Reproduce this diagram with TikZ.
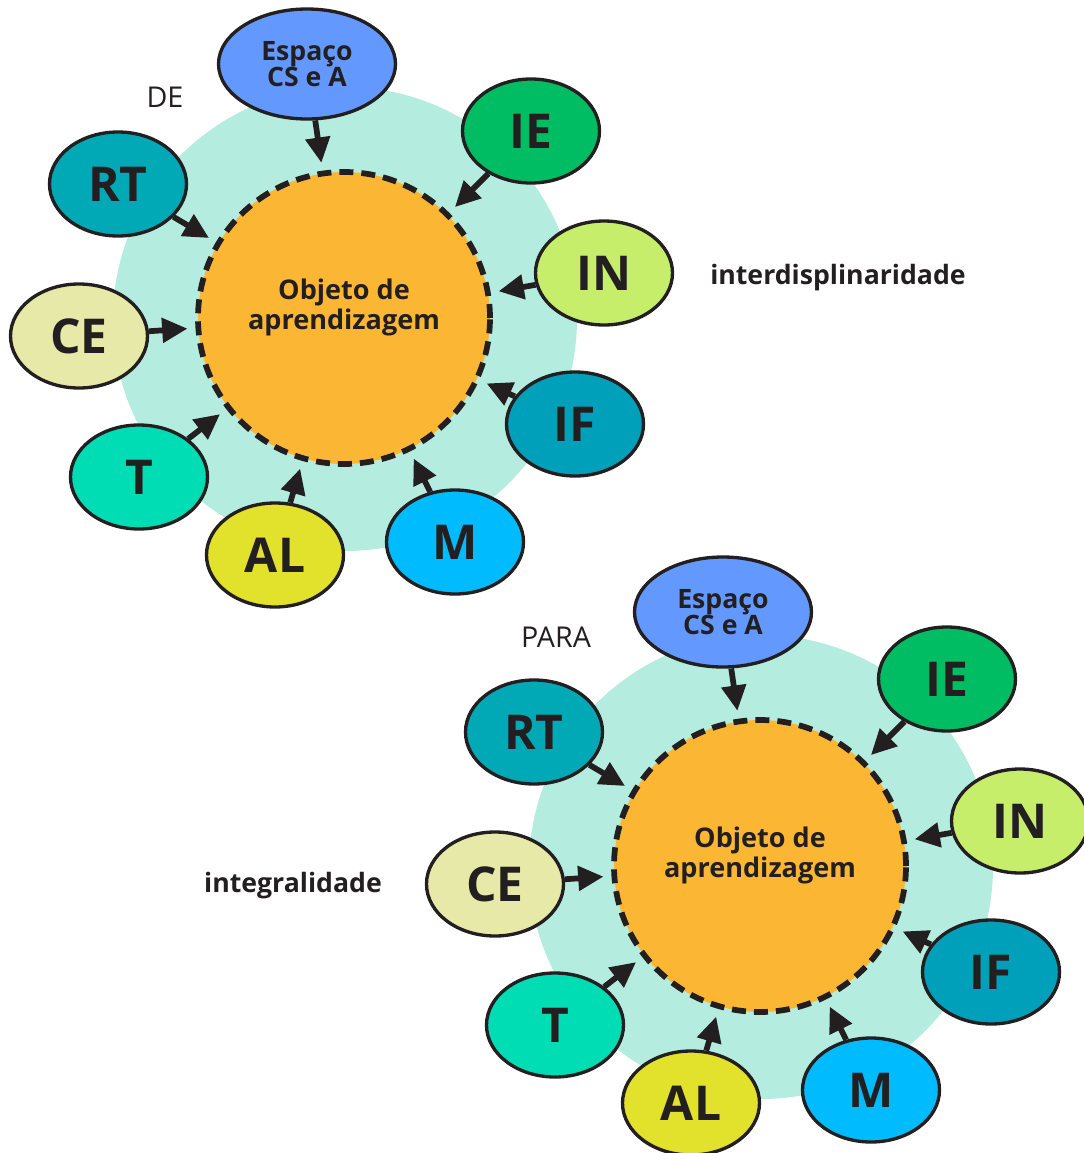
\documentclass[tikz,border=0pt]{standalone}
\usepackage{fontspec}
\setmainfont{Open Sans}
\usetikzlibrary{arrows.meta,shapes.geometric}
\definecolor{bgteal}{HTML}{B4EDE0}
\definecolor{orangec}{HTML}{FBB634}
\definecolor{cEsp}{HTML}{6399FF}
\definecolor{cIE}{HTML}{00BC62}
\definecolor{cRT}{HTML}{00A9B5}
\definecolor{cIN}{HTML}{C6EE6A}
\definecolor{cCE}{HTML}{E6E9A8}
\definecolor{cIF}{HTML}{00A0BA}
\definecolor{cT}{HTML}{00DDB5}
\definecolor{cAL}{HTML}{E2E12B}
\definecolor{cM}{HTML}{00BCFF}
\definecolor{ink}{HTML}{231F20}
\tikzset{
  satellite/.style={ellipse, draw=ink, line width=2.5pt, minimum width=137*0.75pt, minimum height=104*0.75pt, inner sep=0pt, text=ink, font=\fontsize{36}{38}\selectfont\bfseries},
  espbox/.style={ellipse, draw=ink, line width=2.5pt, minimum width=177*0.75pt, minimum height=110*0.75pt, inner sep=0pt, text=ink, align=center, font=\fontsize{20}{22}\selectfont\bfseries},
  core/.style={circle, draw=ink, fill=orangec, line width=4.3pt, dash pattern=on 10.5pt off 6pt, minimum size=292*0.75pt, inner sep=0pt, text=ink, align=center},
  coretext/.style={text=ink, align=center, font=\fontsize{20.3}{22.5}\selectfont\bfseries},
  halo/.style={circle, fill=bgteal, minimum size=464*0.75pt, inner sep=0pt},
  feed/.style={draw=ink, line width=4.3pt, -{Triangle[length=19pt,width=18pt]}, shorten >=6pt},
  sidelabel/.style={text=ink, font=\fontsize{20}{22}\selectfont\bfseries},
  toplabel/.style={text=ink, font=\fontsize{21.5}{24}\selectfont}
}
\newcommand{\cluster}[2]{%
\begin{scope}[shift={(#1)}]
  \node[halo] (#2halo) at (345,319) {};
  \node[core] (#2core) at (344,318) {};
  \node[coretext] (#2coretxt) at (344,307) {Objeto de\\aprendizagem};
  \node[espbox, fill=cEsp] (#2esp) at (307,64) {Espaço\\[-2pt]CS e A};
  \node[satellite, fill=cIE] (#2ie) at (531,131) {IE};
  \node[satellite, fill=cRT] (#2rt) at (118,184) {RT};
  \node[satellite, fill=cIN] (#2in) at (604,273) {IN};
  \node[satellite, fill=cCE] (#2ce) at (79,336) {CE};
  \node[satellite, fill=cIF] (#2if) at (575,424) {IF};
  \node[satellite, fill=cT] (#2t) at (139,477) {T};
  \node[satellite, fill=cAL] (#2al) at (275,555) {AL};
  \node[satellite, fill=cM] (#2m) at (455,542) {M};
  \foreach \s in {esp,ie,rt,in,ce,if,t,al,m}
    \draw[feed] (#2\s) -- (#2core);
\end{scope}}
\begin{document}
\begin{tikzpicture}[x=0.75pt,y=-0.75pt]
\useasboundingbox (0,0) rectangle (1084,1153);
\clip (0,0) rectangle (1084,1153);
\cluster{0,0}{a}
\cluster{416,548}{b}
\node[toplabel] (de) at (165,97) {DE};
\node[toplabel] (para) at (556,637) {PARA};
\node[sidelabel] (inter) at (838,278) {interdisplinaridade};
\node[sidelabel] (integ) at (293,886) {integralidade};
\end{tikzpicture}
\end{document}
